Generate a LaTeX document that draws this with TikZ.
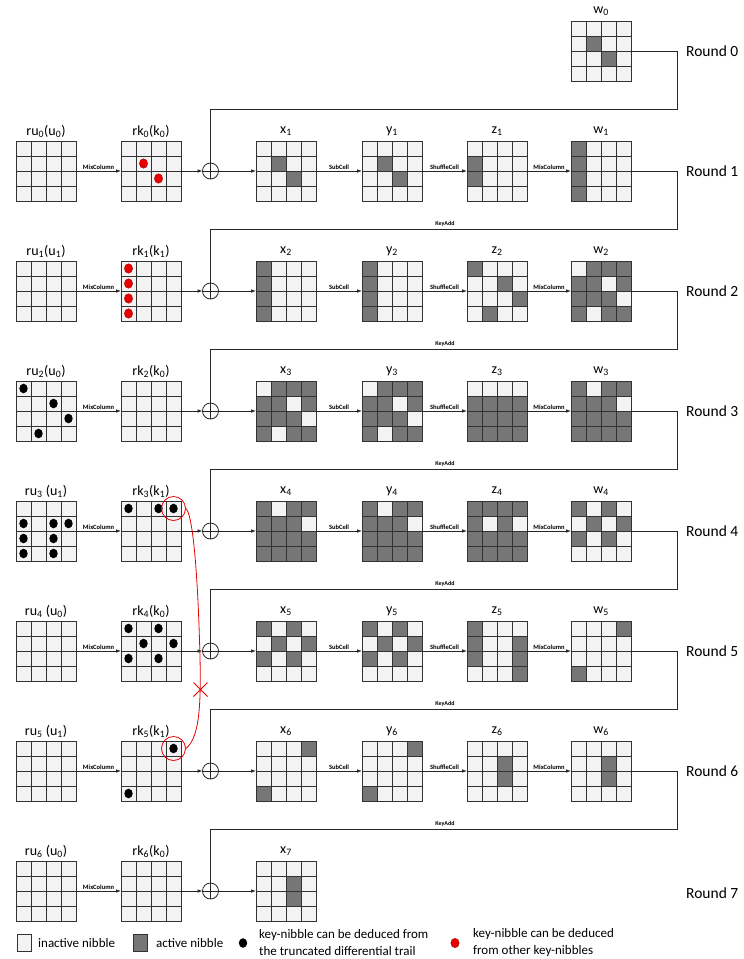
\documentclass[tikz,border=0pt]{standalone}
\usepackage{fontspec}
\setmainfont{Carlito}
\usetikzlibrary{arrows.meta}
\definecolor{inact}{RGB}{243,243,243}
\definecolor{act}{RGB}{118,118,118}
\definecolor{gline}{RGB}{50,50,50}
\definecolor{kred}{RGB}{232,0,0}
\tikzset{
  gridbox/.style={rectangle, minimum width=60pt, minimum height=60pt, inner sep=0pt, outer sep=0pt, fill=inact},
  glabel/.style={font=\fontsize{14}{16}\selectfont, inner sep=0pt},
  gridline/.style={draw=gline, line width=0.9pt},
  arr/.style={draw=black!85, line width=0.8pt, -{Latex[length=5pt,width=3.6pt]}},
  conn/.style={draw=black!85, line width=0.8pt},
  alabel/.style={font=\fontsize{6.5}{7}\selectfont\bfseries, inner sep=1.2pt, above},
  klabel/.style={font=\fontsize{6}{7}\selectfont\bfseries, inner sep=0pt},
  xorop/.style={circle, draw=black!85, line width=0.8pt, minimum size=16pt, inner sep=0pt, outer sep=0pt,
    path picture={\draw[black!85, line width=0.8pt] (path picture bounding box.north) -- (path picture bounding box.south)
      (path picture bounding box.west) -- (path picture bounding box.east);}},
  roundlab/.style={font=\fontsize{15.5}{18}\selectfont, anchor=west, inner sep=0pt},
  legtext/.style={font=\fontsize{13}{17}\selectfont, anchor=west, inner sep=0pt, align=left},
  bdot/.style={fill=black},
  rdot/.style={fill=kred, draw=red!60!black, line width=0.3pt},
  redline/.style={draw=kred, line width=0.8pt},
}
% name, left, top, label, active cells (row/col)
\newcommand\Grid[5]{%
  \node[gridbox] (#1) at ({#2+30},{#3+30}) {};
  \node[glabel] (#1l) at ({#2+30},{#3-10}) {#4};
  \if\relax\detokenize{#5}\relax\else
    \foreach \gr/\gc in {#5} {\fill[act] ({#2+15*\gc},{#3+15*\gr}) rectangle ++(15,15);}
  \fi
  \foreach \gi in {1,2,3} {
    \draw[gridline] ({#2+15*\gi},#3) -- ++(0,60);
    \draw[gridline] (#2,{#3+15*\gi}) -- ++(60,0);
  }
  \draw[gridline] (#2,#3) rectangle ++(60,60);
}
% left, top, cells, style
\newcommand\Dots[4]{%
  \foreach \gr/\gc in {#3} {\path[#4] ({#1+7.5+15*\gc},{#2+7.5+15*\gr}) ellipse [x radius=4.2, y radius=4.8];}
}
\begin{document}
\begin{tikzpicture}[x=1pt,y=-1pt]
\fill[white] (0,0) rectangle (744,959);
\useasboundingbox (0,0) rectangle (744,959);

% ---------- Round 0
\Grid{w0}{571}{21}{w\textsubscript{0}}{1/1,2/2}
\node[roundlab] (R0) at (686,51) {Round 0};

% ---------- Round 1
\Grid{ru0}{16}{141}{ru\textsubscript{0}(u\textsubscript{0})}{}
\Grid{rk0}{121}{141}{rk\textsubscript{0}(k\textsubscript{0})}{}
\Dots{121}{141}{1/1,2/2}{rdot}
\node[xorop] (p1) at (210.5,171) {};
\Grid{x1}{256}{141}{x\textsubscript{1}}{1/1,2/2}
\Grid{y1}{362}{141}{y\textsubscript{1}}{1/1,2/2}
\Grid{z1}{467}{141}{z\textsubscript{1}}{1/0,2/0}
\Grid{w1}{571}{141}{w\textsubscript{1}}{0/0,1/0,2/0,3/0}
\node[roundlab] (R1) at (686,171) {Round 1};

% ---------- Round 2
\Grid{ru1}{16}{261}{ru\textsubscript{1}(u\textsubscript{1})}{}
\Grid{rk1}{121}{261}{rk\textsubscript{1}(k\textsubscript{1})}{}
\Dots{121}{261}{0/0,1/0,2/0,3/0}{rdot}
\node[xorop] (p2) at (210.5,291) {};
\Grid{x2}{256}{261}{x\textsubscript{2}}{0/0,1/0,2/0,3/0}
\Grid{y2}{362}{261}{y\textsubscript{2}}{0/0,1/0,2/0,3/0}
\Grid{z2}{467}{261}{z\textsubscript{2}}{0/0,1/2,2/3,3/1}
\Grid{w2}{571}{261}{w\textsubscript{2}}{0/1,0/2,0/3,1/0,1/1,1/3,2/0,2/1,2/2,3/0,3/2,3/3}
\node[roundlab] (R2) at (686,291) {Round 2};

% ---------- Round 3
\Grid{ru2}{16}{381}{ru\textsubscript{2}(u\textsubscript{0})}{}
\Dots{16}{381}{0/0,1/2,2/3,3/1}{bdot}
\Grid{rk2}{121}{381}{rk\textsubscript{2}(k\textsubscript{0})}{}
\node[xorop] (p3) at (210.5,411) {};
\Grid{x3}{256}{381}{x\textsubscript{3}}{0/1,0/2,0/3,1/0,1/1,1/3,2/0,2/1,2/2,3/0,3/2,3/3}
\Grid{y3}{362}{381}{y\textsubscript{3}}{0/1,0/2,0/3,1/0,1/1,1/3,2/0,2/1,2/2,3/0,3/2,3/3}
\Grid{z3}{467}{381}{z\textsubscript{3}}{1/0,1/1,1/2,1/3,2/0,2/1,2/2,2/3,3/0,3/1,3/2,3/3}
\Grid{w3}{571}{381}{w\textsubscript{3}}{0/0,0/2,0/3,1/0,1/1,1/2,2/0,2/1,2/2,2/3,3/0,3/1,3/2,3/3}
\node[roundlab] (R3) at (686,411) {Round 3};

% ---------- Round 4
\Grid{ru3}{16}{501}{ru\textsubscript{3} (u\textsubscript{1})}{}
\Dots{16}{501}{1/0,1/2,1/3,2/0,2/2,3/0,3/2}{bdot}
\Grid{rk3}{121}{501}{rk\textsubscript{3}(k\textsubscript{1})}{}
\Dots{121}{501}{0/0,0/2,0/3}{bdot}
\node[xorop] (p4) at (210.5,531) {};
\Grid{x4}{256}{501}{x\textsubscript{4}}{0/0,0/2,0/3,1/0,1/1,1/2,2/0,2/1,2/2,2/3,3/0,3/1,3/2,3/3}
\Grid{y4}{362}{501}{y\textsubscript{4}}{0/0,0/2,0/3,1/0,1/1,1/2,2/0,2/1,2/2,2/3,3/0,3/1,3/2,3/3}
\Grid{z4}{467}{501}{z\textsubscript{4}}{0/0,0/1,0/2,0/3,1/0,1/2,2/0,2/1,2/2,2/3,3/0,3/1,3/2,3/3}
\Grid{w4}{571}{501}{w\textsubscript{4}}{0/0,0/2,1/1,1/3,2/0,2/2}
\node[roundlab] (R4) at (686,531) {Round 4};

% ---------- Round 5
\Grid{ru4}{16}{621}{ru\textsubscript{4} (u\textsubscript{0})}{}
\Grid{rk4}{121}{621}{rk\textsubscript{4}(k\textsubscript{0})}{}
\Dots{121}{621}{0/0,0/2,1/1,1/3,2/0,2/2}{bdot}
\node[xorop] (p5) at (210.5,651) {};
\Grid{x5}{256}{621}{x\textsubscript{5}}{0/0,0/2,1/1,1/3,2/0,2/2}
\Grid{y5}{362}{621}{y\textsubscript{5}}{0/0,0/2,1/1,1/3,2/0,2/2}
\Grid{z5}{467}{621}{z\textsubscript{5}}{0/0,1/0,2/0,1/3,2/3,3/3}
\Grid{w5}{571}{621}{w\textsubscript{5}}{0/3,3/0}
\node[roundlab] (R5) at (686,651) {Round 5};

% ---------- Round 6
\Grid{ru5}{16}{741}{ru\textsubscript{5} (u\textsubscript{1})}{}
\Grid{rk5}{121}{741}{rk\textsubscript{5}(k\textsubscript{1})}{}
\Dots{121}{741}{0/3,3/0}{bdot}
\node[xorop] (p6) at (210.5,771) {};
\Grid{x6}{256}{741}{x\textsubscript{6}}{0/3,3/0}
\Grid{y6}{362}{741}{y\textsubscript{6}}{0/3,3/0}
\Grid{z6}{467}{741}{z\textsubscript{6}}{1/2,2/2}
\Grid{w6}{571}{741}{w\textsubscript{6}}{1/2,2/2}
\node[roundlab] (R6) at (686,771) {Round 6};

% ---------- Round 7
\Grid{ru6}{16}{861}{ru\textsubscript{6} (u\textsubscript{0})}{}
\Grid{rk6}{121}{861}{rk\textsubscript{6}(k\textsubscript{0})}{}
\node[xorop] (p7) at (210.5,891) {};
\Grid{x7}{256}{861}{x\textsubscript{7}}{1/2,2/2}
\node[roundlab] (R7) at (686,893) {Round 7};

% ---------- connectors inside rounds
\foreach \a/\b in {0/1,1/2,2/3,3/4,4/5,5/6,6/7} {
  \draw[arr] (ru\a.east) -- node[alabel] (mc\a) {MixColumn} (rk\a.west);
  \draw[arr] (rk\a.east) -- (p\b.west);
  \draw[arr] (p\b.east) -- (x\b.west);
}
\foreach \b in {1,...,6} {
  \draw[arr] (x\b.east) -- node[alabel] (sc\b) {SubCell} (y\b.west);
  \draw[arr] (y\b.east) -- node[alabel] (sh\b) {ShuffleCell} (z\b.west);
  \draw[arr] (z\b.east) -- node[alabel] (mz\b) {MixColumn} (w\b.west);
}

% ---------- feedback (KeyAdd) lines
\foreach \a/\b/\ky in {0/1/109.5,1/2/229.5,2/3/349.5,3/4/469.5,4/5/589.5,5/6/709.5,6/7/829.5} {
  \coordinate (k\a) at (677,\ky);
  \draw[conn] (w\a.east) -| (k\a) -| (p\b.north);
}
\foreach \a/\ky in {1/229.5,2/349.5,3/469.5,4/589.5,5/709.5,6/829.5} {
  \node[klabel] (ka\a) at (445,\ky-6) {KeyAdd};
}

% ---------- red annotation
\node[circle, redline, minimum size=24pt, inner sep=0pt] (rc1) at (173.5,508.5) {};
\node[circle, redline, minimum size=24pt, inner sep=0pt] (rc2) at (173.5,748.5) {};
\draw[redline] (rc1.east) .. controls (192,514) and (197,560) .. (199.5,640)
               .. controls (201.5,700) and (200.5,737) .. (rc2.east);
\draw[redline] (193.5,682.5) -- (207.5,696.5) (193.5,696.5) -- (207.5,682.5);

% ---------- legend
\node[rectangle, draw=gline, fill=inact, line width=0.8pt, minimum width=14pt, minimum height=17pt, inner sep=0pt] (lg1) at (24.5,943) {};
\node[legtext] (lt1) at (38,943) {inactive nibble};
\node[rectangle, draw=gline, fill=act, line width=0.8pt, minimum width=14pt, minimum height=17pt, inner sep=0pt] (lg2) at (140,943) {};
\node[legtext] (lt2) at (156,943) {active nibble};
\path[bdot] (243,943) ellipse [x radius=4.2, y radius=4.8];
\node[legtext] (lt3) at (259,943) {key-nibble can be deduced from\\the truncated differential trail};
\path[rdot] (455,943) ellipse [x radius=4.2, y radius=4.8];
\node[legtext] (lt4) at (473,943) {key-nibble can be deduced\\from other key-nibbles};
\end{tikzpicture}
\end{document}
